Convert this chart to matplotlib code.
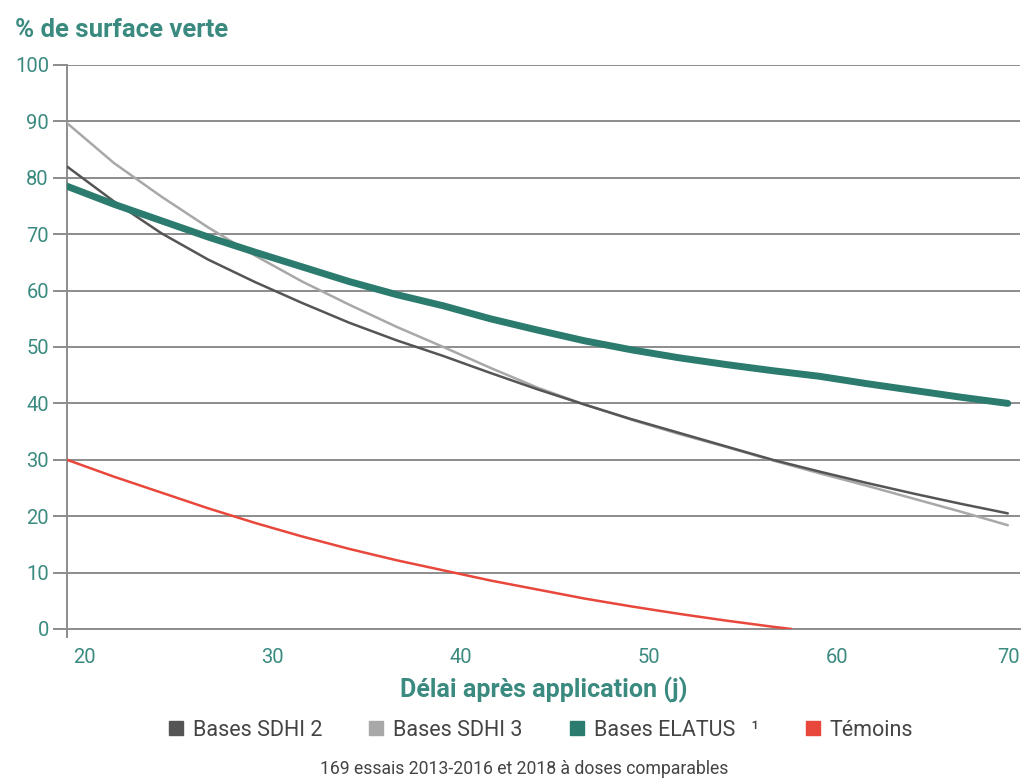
import numpy as np
import matplotlib.pyplot as plt
import matplotlib.transforms as mtransforms
from matplotlib.lines import Line2D

# values
jours = [20, 22.5, 25, 27.5, 30, 32.5, 35, 37.5, 40, 42.5, 45,
         47.5, 50, 52.5, 55, 57.5, 60, 62.5, 65, 67.5, 70]
sdhi2 = [82, 75.8, 70.2, 65.5, 61.5, 57.8, 54.3, 51.2, 48.4, 45.4, 42.5,
         39.8, 37.2, 34.8, 32.4, 30.0, 27.9, 25.9, 24.0, 22.2, 20.5]
sdhi3 = [89.7, 82.6, 76.7, 71.2, 66.2, 61.6, 57.5, 53.6, 50.0, 46.3, 42.8,
         39.8, 37.1, 34.6, 32.3, 29.9, 27.6, 25.4, 23.1, 20.8, 18.4]
elatus = [78.5, 75.3, 72.4, 69.5, 66.8, 64.2, 61.6, 59.3, 57.3, 55.0, 53.0,
          51.1, 49.5, 48.1, 46.9, 45.8, 44.8, 43.5, 42.3, 41.1, 40.0]
jours_temoins = [20, 22.5, 25, 27.5, 30, 32.5, 35, 37.5, 40, 42.5, 45,
                 47.5, 50, 52.5, 55, 57.5, 58.5]
temoins = [30, 27.0, 24.2, 21.4, 18.8, 16.4, 14.2, 12.2, 10.4, 8.6, 7.0,
           5.4, 4.0, 2.7, 1.5, 0.4, 0]

x_ticks = [20, 30, 40, 50, 60, 70]
y_ticks = [0, 10, 20, 30, 40, 50, 60, 70, 80, 90, 100]

teal = '#2b7b6e'
txt_teal = '#3a8a80'
red = '#e8473b'
dark = '#555555'
light = '#a8a8a8'
grid = '#8c8c8c'

plt.rcParams['font.family'] = ['Liberation Sans Narrow', 'Roboto', 'DejaVu Sans']

fig = plt.figure(figsize=(10.23, 7.8), dpi=100)
ax = fig.add_axes([0.0655, 0.1936, 0.9316, 0.7231])

for y in y_ticks[1:]:
    ax.axhline(y, color=grid, lw=1.4, zorder=1)

ax.plot(jours, sdhi3, color=light, lw=1.8, zorder=3, solid_capstyle='round')
ax.plot(jours, sdhi2, color=dark, lw=1.8, zorder=3, solid_capstyle='round')
ax.plot(jours, elatus, color=teal, lw=5, zorder=4, solid_capstyle='round')
ax.plot(jours_temoins, temoins, color=red, lw=1.8, zorder=4, solid_capstyle='round')

ax.set_xlim(20, 70.65)
ax.set_ylim(0, 100)
ax.set_xticks(x_ticks)
ax.set_xticklabels([])
ax.set_yticks(y_ticks)
ax.tick_params(axis='x', length=0)
ax.tick_params(axis='y', length=10, width=1.4, color=grid, labelsize=14.5,
               labelcolor=txt_teal, pad=3)

# x tick labels sit a bit to the right of their ticks, as in the original
trans = mtransforms.blended_transform_factory(ax.transData, ax.transAxes)
for i, v in enumerate(x_ticks):
    last = i == len(x_ticks) - 1
    shift = 0.12 if last else 0.17
    ax.text(v, -0.05, str(v), transform=trans + mtransforms.ScaledTranslation(
        shift, 0, fig.dpi_scale_trans), ha='right' if last else 'center', va='center',
        fontsize=14.5, color=txt_teal, clip_on=False)

for s in ['top', 'right']:
    ax.spines[s].set_visible(False)
ax.spines['left'].set_color(grid)
ax.spines['left'].set_linewidth(1.4)
ax.spines['left'].set_bounds(-1.5, 100)
ax.spines['bottom'].set_color(grid)
ax.spines['bottom'].set_linewidth(1.4)

fig.text(0.015, 0.962, '% de surface verte', color=txt_teal, fontsize=18.5,
         fontweight='bold', ha='left', va='center')
fig.text(0.532, 0.115, 'Délai après application (j)', color=txt_teal, fontsize=18,
         fontweight='bold', ha='center', va='center')

handles = [
    Line2D([], [], marker='s', ls='', color=dark, markersize=10),
    Line2D([], [], marker='s', ls='', color=light, markersize=10),
    Line2D([], [], marker='s', ls='', color=teal, markersize=10),
    Line2D([], [], marker='s', ls='', color=red, markersize=10),
]
labels = ['Bases SDHI 2', 'Bases SDHI 3', 'Bases ELATUS   \u00b9', 'Témoins']
leg = fig.legend(handles, labels, loc='center', bbox_to_anchor=(0.527, 0.064), ncol=4,
                 frameon=False, fontsize=15.5, handletextpad=0.3, columnspacing=2.0,
                 handlelength=1.0, labelcolor='#444444')

fig.text(0.512, 0.014, '169 essais 2013-2016 et 2018 à doses comparables',
         color='#444444', fontsize=12.7, ha='center', va='center')

fig.savefig('out.png', dpi=100, facecolor='white')
